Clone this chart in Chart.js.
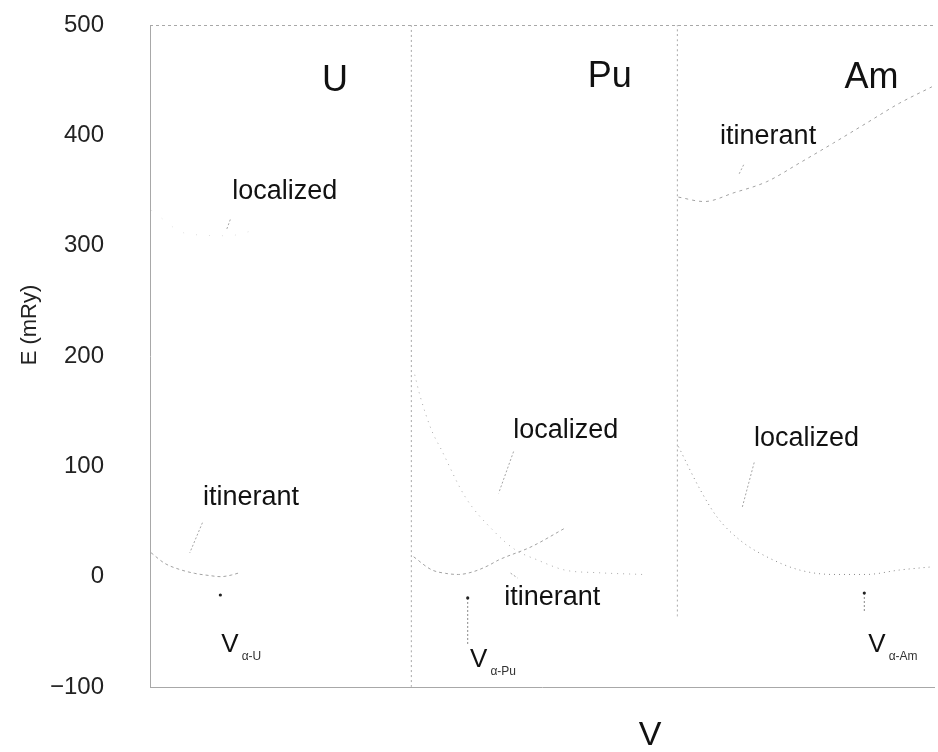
<!DOCTYPE html>
<html>
<head>
<meta charset="utf-8">
<script src="https://cdn.jsdelivr.net/npm/chart.js@4/dist/chart.umd.min.js"></script>
<style>
  html, body { margin: 0; padding: 0; background: #fff; }
  #wrap { width: 938px; height: 752px; }
</style>
</head>
<body>
<div id="wrap"><canvas id="chart" width="938" height="752"></canvas></div>
<script>
// x is volume in panel units: U = 0..1, Pu = 1..2, Am = 2..3
// E in mRy
const uItinV = [0.004, 0.057, 0.114, 0.171, 0.228, 0.270, 0.312, 0.343];
const uItinE = [21.7, 12, 6.5, 3, 1, 0, 1.5, 3.6];
const uLocV = [0.005, 0.14, 0.30, 0.40];
const uLocE = [332, 311, 309, 314];

const puLocV = [1.013, 1.032, 1.077, 1.115, 1.207, 1.321, 1.397, 1.484, 1.587, 1.713, 1.885];
const puLocE = [183, 165, 133, 115, 72, 40, 24.5, 15, 6, 3.6, 2];
const puItinV = [1.009, 1.077, 1.131, 1.180, 1.237, 1.294, 1.333, 1.458, 1.588];
const puItinE = [18, 6.3, 3, 2, 4.5, 10, 15, 27, 44];

const amItinV = [2.022, 2.121, 2.235, 2.360, 2.486, 2.615, 2.741, 2.867, 2.992];
const amItinE = [344, 340, 348, 358, 375, 393, 411, 429, 444];
const amLocV = [2.022, 2.105, 2.170, 2.258, 2.360, 2.486, 2.615, 2.741, 2.867, 2.996];
const amLocE = [118, 79, 54, 33, 18, 6, 2, 2, 6, 9];

// panel dividers (V) and where each one stops at the bottom (E)
const dividerV = [1.0, 2.018];
const dividerLow = [-100, -36];

// equilibrium volume markers
const eqV = [0.2692, 1.2157, 2.7333];
const eqTop = [-16.6, -19.3, -14.8];
const eqLow = [-16.6, -62, -32.9];

const yTicks = [-100, 0, 100, 200, 300, 400, 500];

const FONT = "'Liberation Sans', Arial, Helvetica, sans-serif";
const curveColor = '#a2a2a2';
const frameColor = '#a8a8a8';
const TOP = 25;

function pts(xs, ys) {
  return xs.map((x, i) => ({ x: x, y: ys[i] }));
}
function seg(x1, y1, x2, y2) {
  return [{ x: x1, y: y1 }, { x: x2, y: y2 }];
}

function curve(data, dash, color) {
  return {
    data: data,
    showLine: true,
    borderColor: color || curveColor,
    borderWidth: 1,
    borderDash: dash || [2, 3],
    pointRadius: 0,
    cubicInterpolationMode: 'monotone',
    fill: false
  };
}

const datasets = [
  curve(pts(uItinV, uItinE), [3, 3]),
  curve(pts(uLocV, uLocE), [1, 12], '#dedede'),
  curve(pts(puLocV, puLocE), [1, 5], '#a8a8a8'),
  curve(pts(puItinV, puItinE), [3, 3]),
  curve(pts(amItinV, amItinE), [3, 4]),
  curve(pts(amLocV, amLocE), [1, 4], '#8a8a8a')
];

// dividers
dividerV.forEach((v, i) => {
  datasets.push(curve(seg(v, dividerLow[i], v, 500), [2, 3], frameColor));
});

// leader lines from labels to curves
[
  seg(0.2006, 48.9, 0.152, 21.5),
  seg(0.3072, 323.7, 0.2932, 314.6),
  seg(1.3912, 113.4, 1.3341, 75.6),
  seg(1.3798, 3.2, 1.4065, -1.2),
  seg(2.2716, 373.3, 2.2526, 364.2),
  seg(2.312, 103.5, 2.2653, 62.0)
].forEach(s => datasets.push(curve(s, [2, 2], '#a5a5a5')));

// V_alpha markers
eqV.forEach((v, i) => {
  datasets.push({
    data: seg(v, eqTop[i], v, eqLow[i]),
    showLine: eqTop[i] !== eqLow[i],
    borderColor: '#888',
    borderWidth: 1,
    borderDash: [2, 2],
    pointRadius: [1.6, 0],
    pointBackgroundColor: '#222',
    pointBorderWidth: 0
  });
});

// text placed in data coordinates (x = V, y = E at baseline)
const labels = [
  { t: 'U', x: 0.6586, y: 440.2, size: 36 },
  { t: 'Pu', x: 1.6751, y: 443.8, size: 36 },
  { t: 'Am', x: 2.6573, y: 442.9, size: 36 },
  { t: 'localized', x: 0.3148, y: 342.3, size: 27 },
  { t: 'itinerant', x: 0.2029, y: 65.0, size: 27 },
  { t: 'localized', x: 1.3896, y: 125.7, size: 27 },
  { t: 'itinerant', x: 1.3553, y: -25.7, size: 27 },
  { t: 'itinerant', x: 2.1814, y: 392.1, size: 27 },
  { t: 'localized', x: 2.3109, y: 118.4, size: 27 }
];
const vLabels = [
  { sub: 'α-U', x: 0.273, y: -68.3 },
  { sub: 'α-Pu', x: 1.2248, y: -81.9 },
  { sub: 'α-Am', x: 2.7487, y: -68.3 }
];

const textPlugin = {
  id: 'texts',
  afterDraw(chart) {
    const ctx = chart.ctx;
    const xs = chart.scales.x, ys = chart.scales.y;
    const area = chart.chartArea;
    ctx.save();

    // top frame line
    ctx.strokeStyle = frameColor;
    ctx.lineWidth = 1;
    ctx.setLineDash([3, 3]);
    ctx.beginPath();
    ctx.moveTo(area.left, area.top + 0.5);
    ctx.lineTo(area.right, area.top + 0.5);
    ctx.stroke();
    ctx.setLineDash([]);

    ctx.fillStyle = '#111';
    ctx.textBaseline = 'alphabetic';
    ctx.textAlign = 'left';
    labels.forEach(l => {
      ctx.font = l.size + 'px ' + FONT;
      ctx.fillText(l.t, xs.getPixelForValue(l.x), ys.getPixelForValue(l.y));
    });

    vLabels.forEach(l => {
      const px = xs.getPixelForValue(l.x), py = ys.getPixelForValue(l.y);
      ctx.font = '26px ' + FONT;
      ctx.fillText('V', px, py);
      const w = ctx.measureText('V').width;
      ctx.font = '12px ' + FONT;
      ctx.fillStyle = '#333';
      ctx.fillText(l.sub, px + w + 3, py + 8);
      ctx.fillStyle = '#111';
    });

    // axis titles
    ctx.font = '34px ' + FONT;
    ctx.textAlign = 'center';
    ctx.textBaseline = 'middle';
    ctx.fillText('V', 650, 736);

    ctx.save();
    ctx.translate(30, 325);
    ctx.rotate(-Math.PI / 2);
    ctx.font = '22px ' + FONT;
    ctx.fillStyle = '#222';
    ctx.fillText('E (mRy)', 0, 0);
    ctx.restore();

    ctx.restore();
  }
};

const chart = new Chart(document.getElementById('chart'), {
  type: 'scatter',
  data: { datasets: datasets },
  options: {
    responsive: false,
    animation: false,
    devicePixelRatio: 1,
    layout: { padding: { top: TOP, right: 0, bottom: 0, left: 0 } },
    plugins: {
      legend: { display: false },
      tooltip: { enabled: false }
    },
    scales: {
      x: {
        type: 'linear',
        min: 0,
        max: 3,
        grid: { display: false, drawTicks: false },
        ticks: { display: false },
        border: { display: true, color: frameColor, dash: [3, 3] },
        afterFit(scale) { scale.height = 65; }
      },
      y: {
        type: 'linear',
        min: -100,
        max: 500,
        afterBuildTicks(scale) { scale.ticks = yTicks.map(v => ({ value: v })); },
        grid: { display: false, drawTicks: false },
        border: { display: true, color: frameColor, dash: [2, 3] },
        ticks: {
          color: '#222',
          padding: 46,
          font: { family: FONT, size: 24 },
          callback: v => (v < 0 ? '\u2212' + Math.abs(v) : String(v))
        },
        afterFit(scale) {
          scale.width = 150;
          scale.paddingTop = 0;
          scale.paddingBottom = 0;
        }
      }
    }
  },
  plugins: [textPlugin]
});

// pull the plot top up to TOP if the layout left extra room
const gap = chart.chartArea.top - TOP;
if (gap > 0) {
  chart.options.layout.padding.top = TOP - gap;
  chart.update();
}
</script>
</body>
</html>
